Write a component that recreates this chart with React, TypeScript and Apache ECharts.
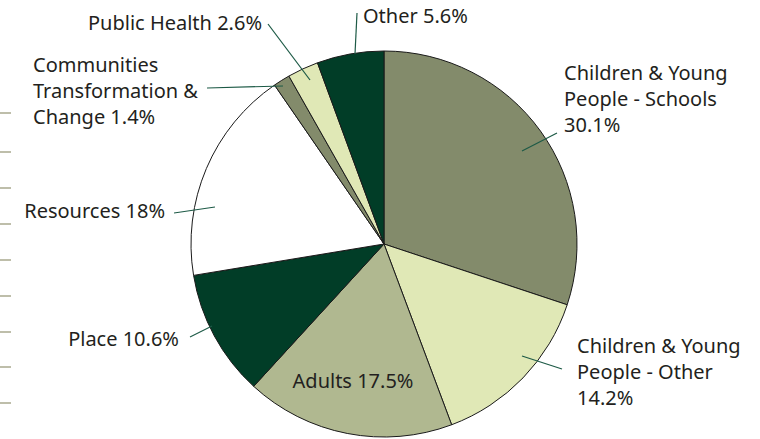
import React, { useEffect, useRef } from "react";
import * as echarts from "echarts";

const names = [
  "Children & Young\nPeople - Schools",
  "Children & Young\nPeople - Other",
  "Adults",
  "Place",
  "Resources",
  "Communities\nTransformation &\nChange",
  "Public Health",
  "Other",
];
const values = [30.1, 14.2, 17.5, 10.6, 18, 1.4, 2.6, 5.6];
const valueSeparators = ["\n", "\n", " ", " ", " ", " ", " ", " "];
const colors = ["#838b6b", "#e0e8b6", "#b0b890", "#013d27", "#ffffff", "#838b6b", "#e0e8b6", "#013d27"];
const sideTickYs = [113, 152, 188, 224, 260, 296, 332, 367, 403];

// label layout: text anchor (x, y), leader line from `start` (inside slice) to `end` (near text)
const labelPos = [
  { x: 564, y: 98, align: "left", start: [522, 151], end: [557, 133] },
  { x: 577, y: 371, align: "left", start: [522, 356], end: [562, 369] },
  { x: 353, y: 380, align: "center", start: null, end: null },
  { x: 179, y: 338, align: "right", start: [212, 326], end: [190, 337] },
  { x: 165, y: 210, align: "right", start: [215, 207], end: [174, 213] },
  { x: 33, y: 90, align: "left", start: [283, 86], end: [207, 88] },
  { x: 262, y: 22, align: "right", start: [310, 80], end: [268, 24] },
  { x: 363, y: 15, align: "left", start: [355, 54], end: [357, 13] },
];

const CX = 384;
const CY = 244;
const R = 193;

export default function App() {
  const ref = useRef<HTMLDivElement>(null);
  useEffect(() => {
    document.body.style.margin = "0";
    if (!ref.current) return;
    const chart = echarts.init(ref.current, undefined, { renderer: "svg" });
    const common = {
      type: "pie",
      center: [CX, CY],
      radius: R,
      startAngle: 90,
      clockwise: true,
      avoidLabelOverlap: false,
      silent: true,
      emphasis: { disabled: true },
    };
    chart.setOption({
      animation: false,
      graphic: sideTickYs.map((y) => ({
        type: "line",
        shape: { x1: 0, y1: y, x2: 11, y2: y },
        style: { stroke: "#a8a88e", lineWidth: 1.5 },
        silent: true,
      })),
      series: [
        {
          ...common,
          z: 2,
          itemStyle: { borderColor: "#1a1a1a", borderWidth: 1 },
          label: { show: false },
          labelLine: { show: false },
          data: values.map((v, i) => ({ name: names[i], value: v, itemStyle: { color: colors[i] } })),
        },
        {
          ...common,
          z: 5,
          itemStyle: { color: "rgba(0,0,0,0)", borderWidth: 0 },
          label: {
            show: true,
            position: "outside",
            fontFamily: "Noto Sans",
            fontSize: 20,
            lineHeight: 26,
            color: "#231f20",
            formatter: (p: any) => `${p.name}${valueSeparators[p.dataIndex]}${p.value}%`,
          },
          labelLine: {
            show: true,
            showAbove: true,
            lineStyle: { color: "#1d5a46", width: 1.2 },
          },
          labelLayout: (params: any) => {
            const lp = labelPos[params.dataIndex];
            const out: any = { x: lp.x, y: lp.y, align: lp.align, verticalAlign: "middle" };
            if (lp.start && lp.end) out.labelLinePoints = [lp.start, lp.end];
            return out;
          },
          data: values.map((v, i) => ({
            name: names[i],
            value: v,
            ...(i === 2 ? { label: { position: "inside" }, labelLine: { show: false } } : {}),
          })),
        },
      ],
    });
    return () => chart.dispose();
  }, []);
  return <div ref={ref} style={{ width: 760, height: 439 }} />;
}
